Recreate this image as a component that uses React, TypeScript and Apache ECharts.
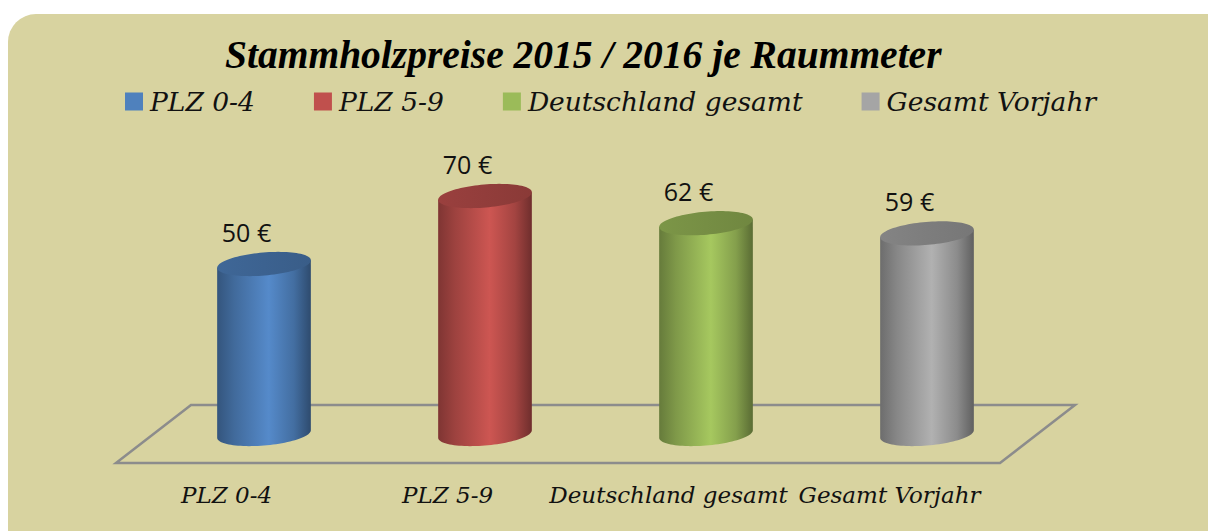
import React, { useEffect, useRef } from "react";
import * as echarts from "echarts";

const TITLE = "Stammholzpreise 2015 / 2016 je Raummeter";
const categories = ["PLZ 0-4", "PLZ 5-9", "Deutschland gesamt", "Gesamt Vorjahr"];
const values = [50, 70, 62, 59];
const valueUnit = " €";
const COLORS = ["#4f81bd", "#c0504d", "#9bbb59", "#a5a5a5"];

const DEPTH_X = 75;
const DEPTH_Y = 58;
const RX = 47;
const RY = 11.5;
const TILT = -0.085;

function shade(hex: string, f: number): string {
  const n = parseInt(hex.slice(1), 16);
  const ch = [(n >> 16) & 255, (n >> 8) & 255, n & 255].map((c) =>
    Math.max(0, Math.min(255, Math.round(c * f)))
  );
  return "rgb(" + ch.join(",") + ")";
}

function ellipsePoint(cx: number, cy: number, t: number): number[] {
  const c = Math.cos(TILT);
  const s = Math.sin(TILT);
  return [
    cx + RX * Math.cos(t) * c - RY * Math.sin(t) * s,
    cy + RX * Math.cos(t) * s + RY * Math.sin(t) * c,
  ];
}

const makeCylinder = (color: string) => (params: any, api: any) => {
  const idx = api.value(0);
  const val = api.value(1);
  const top = api.coord([idx, val]);
  const base = api.coord([idx, 0]);
  const cx = top[0] + DEPTH_X / 2;
  const t1 = Math.atan2(-RY * Math.sin(TILT), RX * Math.cos(TILT));
  const xExt = ellipsePoint(0, 0, t1)[0];
  const N = 48;
  const body: number[][] = [ellipsePoint(cx, top[1], t1 + Math.PI)];
  for (let k = 0; k <= N; k++) {
    const t = t1 + Math.PI - (Math.PI * k) / N;
    body.push(ellipsePoint(cx, base[1], t));
  }
  body.push(ellipsePoint(cx, top[1], t1));
  const cap: number[][] = [];
  for (let k = 0; k < N * 2; k++) {
    cap.push(ellipsePoint(cx, top[1], (Math.PI * k) / N));
  }
  const grad = {
    type: "linear",
    x: cx - xExt,
    y: 0,
    x2: cx + xExt,
    y2: 0,
    global: true,
    colorStops: [
      { offset: 0, color: shade(color, 0.66) },
      { offset: 0.18, color: shade(color, 0.82) },
      { offset: 0.55, color: shade(color, 1.07) },
      { offset: 0.82, color: shade(color, 0.85) },
      { offset: 1, color: shade(color, 0.58) },
    ],
  };
  const capGrad = {
    type: "linear",
    x: cx - xExt,
    y: 0,
    x2: cx + xExt,
    y2: 0,
    global: true,
    colorStops: [
      { offset: 0, color: shade(color, 0.8) },
      { offset: 0.5, color: shade(color, 0.76) },
      { offset: 1, color: shade(color, 0.72) },
    ],
  };
  return {
    type: "group",
    children: [
      { type: "polygon", shape: { points: body }, style: { fill: grad } },
      { type: "polygon", shape: { points: cap }, style: { fill: capGrad } },
      {
        type: "text",
        x: top[0] + 20,
        y: top[1] - 32,
        style: {
          text: val + valueUnit,
          fill: "#111",
          fontFamily: "Open Sans",
          fontSize: 25,
          align: "center",
          verticalAlign: "middle",
        },
      },
    ],
  };
};

const renderFloor = (params: any, api: any) => {
  const cs = params.coordSys;
  const base = api.coord([0, 0])[1];
  const x0 = cs.x;
  const x1 = cs.x + cs.width;
  const fy = base + DEPTH_Y / 2;
  const by = base - DEPTH_Y / 2;
  return {
    type: "polygon",
    shape: {
      points: [
        [x0, fy],
        [x1, fy],
        [x1 + DEPTH_X, by],
        [x0 + DEPTH_X, by],
      ],
    },
    style: { fill: "#d8d3a0", stroke: "#8c8c8c", lineWidth: 2.5 },
  };
};

export default function App() {
  const ref = useRef<HTMLDivElement>(null);
  useEffect(() => {
    if (!ref.current) return;
    const chart = echarts.init(ref.current, undefined, { renderer: "svg" });
    const series: any[] = [
      {
        type: "custom",
        name: "floor",
        data: [[0, 0]],
        renderItem: renderFloor,
        silent: true,
        z: 1,
      },
    ];
    categories.forEach((c, i) => {
      series.push({
        type: "custom",
        name: c,
        data: [[i, values[i]]],
        itemStyle: { color: COLORS[i] },
        renderItem: makeCylinder(COLORS[i]),
        z: 3,
      });
    });
    chart.setOption({
      animation: false,
      color: COLORS,
      graphic: [
        {
          type: "rect",
          z: -10,
          shape: { x: 8, y: 14, width: 1240, height: 560, r: 28 },
          style: { fill: "#d8d3a0" },
          silent: true,
        },
      ],
      title: {
        text: TITLE,
        left: 225,
        top: 35,
        padding: 0,
        textStyle: {
          fontFamily: "Liberation Serif",
          fontStyle: "italic",
          fontWeight: "bold",
          fontSize: 39.5,
          color: "#000",
        },
      },
      legend: {
        data: categories,
        left: 125,
        top: 88,
        padding: 0,
        icon: "rect",
        itemWidth: 18,
        itemHeight: 18,
        itemGap: 59,
        textStyle: {
          fontFamily: "DejaVu Serif",
          fontStyle: "italic",
          fontSize: 26.5,
          color: "#111",
          padding: [0, 0, 0, 2],
        },
      },
      grid: { left: 116, width: 884, top: 94, bottom: 97 },
      xAxis: {
        type: "category",
        data: categories,
        axisLine: { show: false },
        axisTick: { show: false },
        splitLine: { show: false },
        axisLabel: {
          interval: 0,
          margin: 61,
          verticalAlign: "middle",
          fontFamily: "DejaVu Serif",
          fontStyle: "italic",
          fontSize: 23,
          color: "#111",
        },
      },
      yAxis: { type: "value", min: 0, max: 100, show: false },
      series,
    });
    return () => chart.dispose();
  }, []);
  return (
    <div
      ref={ref}
      style={{ position: "absolute", left: 0, top: 0, width: 1208, height: 531 }}
    />
  );
}
